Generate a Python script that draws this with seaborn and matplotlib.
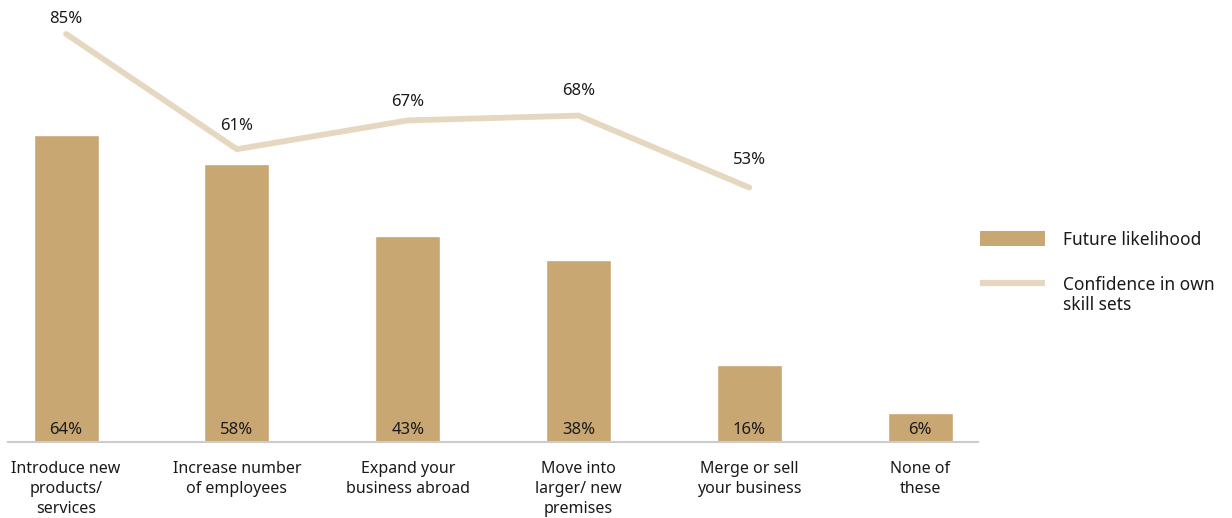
import matplotlib
matplotlib.use("Agg")
import matplotlib.pyplot as plt
import seaborn as sns
from matplotlib.patches import Patch
from matplotlib.lines import Line2D

# data
categories = [
    "Introduce new\nproducts/\nservices",
    "Increase number\nof employees",
    "Expand your\nbusiness abroad",
    "Move into\nlarger/ new\npremises",
    "Merge or sell\nyour business",
    "None of\nthese",
]
future_likelihood = [64, 58, 43, 38, 16, 6]
confidence = [85, 61, 67, 68, 53]

BAR_COLOR = "#C9A773"
LINE_COLOR = "#E6D8C0"
TEXT_COLOR = "#1a1a1a"
# vertical offset (points) of each line label above its point
label_offsets = [11, 17, 13, 18, 20]

sns.set_style("white")
plt.rcParams["font.family"] = ["Noto Sans", "DejaVu Sans"]

fig = plt.figure(figsize=(12.32, 5.18), dpi=100)
ax = fig.add_axes([0.0065, 0.1467, 0.7875, 0.834])

sns.barplot(x=categories, y=future_likelihood, color=BAR_COLOR, width=0.38,
            saturation=1, ax=ax)
sns.lineplot(x=categories[:5], y=confidence, color=LINE_COLOR, linewidth=4.2,
             sort=False, ax=ax)

# bar labels sit inside the bars, near the baseline
for i, v in enumerate(future_likelihood):
    ax.text(i, 2.5, f"{v}%", ha="center", va="center", fontsize=12, color=TEXT_COLOR)

# line labels above the points
for i, v in enumerate(confidence):
    ax.annotate(f"{v}%", (i, v), xytext=(0, label_offsets[i]), textcoords="offset points",
                ha="center", va="center", fontsize=12, color=TEXT_COLOR)

ax.set_xlim(-0.34, 5.34)
ax.set_ylim(0, 90)
ax.set_yticks([])
ax.set_ylabel("")
for side in ["top", "right", "left"]:
    ax.spines[side].set_visible(False)
ax.spines["bottom"].set_color("#CCCCCC")
ax.spines["bottom"].set_linewidth(1.5)
ax.tick_params(axis="x", length=0, pad=14, labelsize=11.5, labelcolor=TEXT_COLOR)
for lbl in ax.get_xticklabels():
    lbl.set_linespacing(1.3)

handles = [
    Patch(facecolor=BAR_COLOR, edgecolor="none", label="Future likelihood"),
    Line2D([0], [0], color=LINE_COLOR, linewidth=4.5, solid_capstyle="butt",
           label="Confidence in own"),
]
leg = fig.legend(handles=handles, loc="upper left", bbox_to_anchor=(0.783, 0.585),
                 frameon=False, fontsize=12.5, handlelength=3.75, handleheight=1.0,
                 handletextpad=1.0, labelspacing=1.55, labelcolor=TEXT_COLOR)

# second line of the confidence label, placed under the legend text
fig.canvas.draw()
bb = leg.get_texts()[1].get_window_extent()
x0, y0 = fig.transFigure.inverted().transform((bb.x0, bb.y0))
fig.text(x0, y0 - 2 / 518, "skill sets", ha="left", va="top",
         fontsize=12.5, color=TEXT_COLOR)

fig.savefig("out.png", dpi=100)
